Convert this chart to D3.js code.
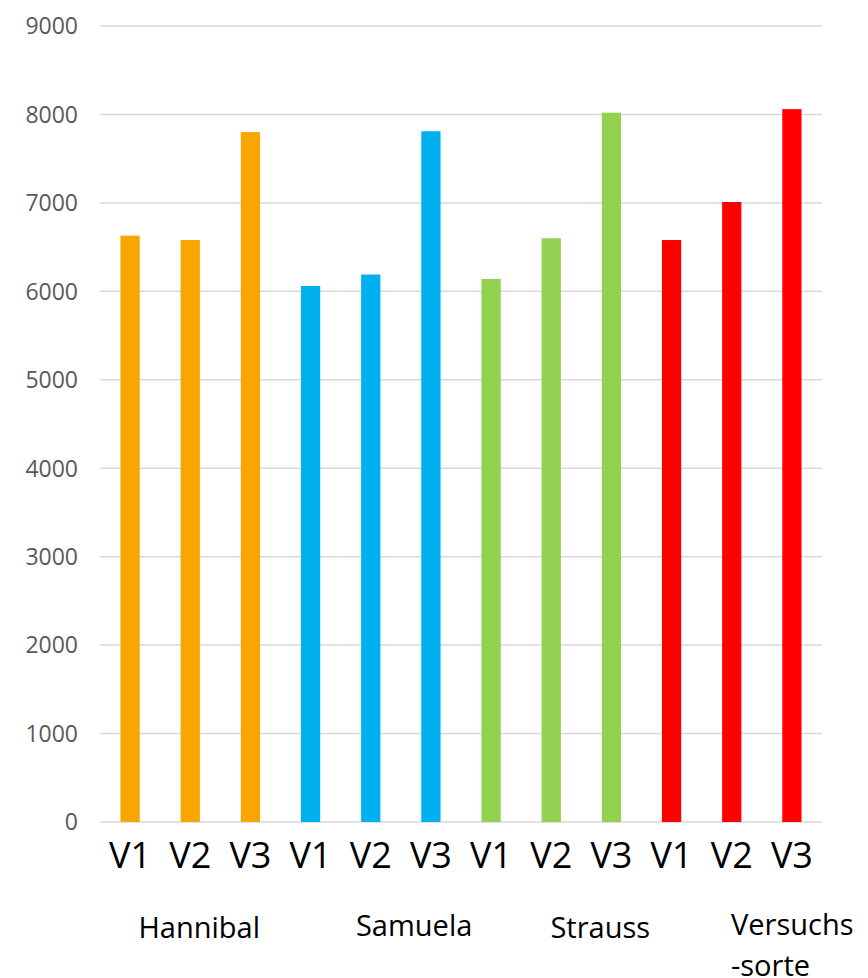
<!DOCTYPE html>
<html>
<head>
<meta charset="utf-8">
<script src="https://cdn.jsdelivr.net/npm/d3@7"></script>
<style>
  body { margin: 0; background: #fff; }
  text { font-family: "Open Sans", "Noto Sans", sans-serif; }
</style>
</head>
<body>
<div id="chart"></div>
<script>
var groups = ["Hannibal", "Samuela", "Strauss", "Versuchs-sorte"];
var versions = ["V1", "V2", "V3"];
var groupColors = ["#F9A602", "#00B0F0", "#92D050", "#FF0000"];
var values = [
    [6630, 6580, 7800],
    [6060, 6190, 7810],
    [6140, 6600, 8020],
    [6580, 7010, 8060]
];
var yTicks = [0, 1000, 2000, 3000, 4000, 5000, 6000, 7000, 8000, 9000];

var rows = [];
groups.forEach(function (g, gi) {
    versions.forEach(function (v, vi) {
        rows.push({ key: g + "-" + v, group: gi, version: v, value: values[gi][vi] });
    });
});

var width = 868, height = 978;
var margin = { top: 26, right: 46, bottom: 156, left: 100 };

var svg = d3.select("#chart").append("svg")
    .attr("width", width)
    .attr("height", height);

var x = d3.scaleBand()
    .domain(rows.map(function (d) { return d.key; }))
    .range([margin.left, width - margin.right])
    .paddingInner(0.68)
    .paddingOuter(0.34);

var y = d3.scaleLinear()
    .domain([0, 9000])
    .range([height - margin.bottom, margin.top]);

// gridlines
svg.append("g")
    .selectAll("line")
    .data(yTicks)
    .enter().append("line")
    .attr("x1", margin.left)
    .attr("x2", width - margin.right)
    .attr("y1", function (d) { return y(d); })
    .attr("y2", function (d) { return y(d); })
    .attr("stroke", "#D9D9D9")
    .attr("stroke-width", 1.5);

// y axis labels
svg.append("g")
    .selectAll("text")
    .data(yTicks)
    .enter().append("text")
    .attr("x", margin.left - 22)
    .attr("y", function (d) { return y(d); })
    .attr("dy", "0.36em")
    .attr("text-anchor", "end")
    .attr("fill", "#595959")
    .style("font-size", "23px")
    .text(function (d) { return d; });

// bars
svg.append("g")
    .selectAll("rect")
    .data(rows)
    .enter().append("rect")
    .attr("x", function (d) { return x(d.key); })
    .attr("width", x.bandwidth())
    .attr("y", function (d) { return y(d.value); })
    .attr("height", function (d) { return y(0) - y(d.value); })
    .attr("fill", function (d) { return groupColors[d.group]; });

// version labels
svg.append("g")
    .selectAll("text")
    .data(rows)
    .enter().append("text")
    .attr("x", function (d) { return x(d.key) + x.bandwidth() / 2; })
    .attr("y", y(0) + 46)
    .attr("text-anchor", "middle")
    .attr("fill", "#000")
    .style("font-size", "36px")
    .text(function (d) { return d.version; });

// group labels, left edge offset from the first bar of each group, as in the original
var labelShift = [18, 55, 69, 69];
var labelDy = [116, 114, 116, 113];
svg.append("g")
    .selectAll("text")
    .data(groups)
    .enter().append("text")
    .attr("x", function (d, i) { return x(groups[i] + "-V1") + labelShift[i]; })
    .attr("y", function (d, i) { return y(0) + labelDy[i]; })
    .attr("text-anchor", "start")
    .attr("fill", "#000")
    .style("font-size", "29px")
    .each(function (d) {
        var parts = d.split("-");
        var t = d3.select(this);
        if (parts.length === 1) {
            t.text(d);
        } else {
            t.append("tspan").attr("x", t.attr("x")).text(parts[0]);
            t.append("tspan").attr("x", t.attr("x")).attr("dy", "1.4em").text("-" + parts[1]);
        }
    });
</script>
</body>
</html>
